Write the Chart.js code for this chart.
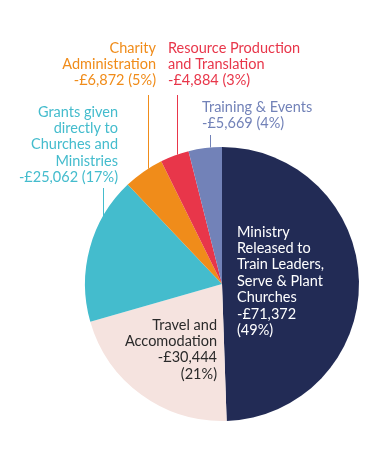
<!DOCTYPE html>
<html>
<head>
<meta charset="utf-8">
<script src="https://cdn.jsdelivr.net/npm/chart.js@4"></script>
<style>
  body { margin: 0; background: #fff; }
</style>
</head>
<body>
<canvas id="spend-chart" width="375" height="458"></canvas>
<script>
// spending breakdown pie

const categories = [
  "Ministry Released to Train Leaders, Serve & Plant Churches",
  "Travel and Accomodation",
  "Grants given directly to Churches and Ministries",
  "Charity Administration",
  "Resource Production and Translation",
  "Training & Events"
];
const amounts = [71372, 30444, 25062, 6872, 4884, 5669];
const percents = [49, 21, 17, 5, 3, 4];
const sliceColors = [
  "#222B55",
  "#F5E3DF",
  "#44BCCD",
  "#F08C1A",
  "#E8364A",
  "#7282B8"
];

// label text, one entry per slice (last line carries the amount)
const labelLines = [
  ["Ministry", "Released to", "Train Leaders,", "Serve & Plant", "Churches"],
  ["Travel and", "Accomodation"],
  ["Grants given", "directly to", "Churches and", "Ministries"],
  ["Charity", "Administration"],
  ["Resource Production", "and Translation"],
  ["Training & Events"]
];

function money(v) {
  return "-£" + v.toLocaleString("en-GB");
}

// where each label goes, relative to pie centre
const labelPlaces = [
  { dx: 15, dy: -52, align: "left", color: "#ffffff", split: true },
  { dx: -5, dy: 41, align: "right", color: "#2a2a2a", split: true },
  { dx: -104, dy: -172, align: "right", color: "#44BCCD", leaderX: -119, leaderTop: -96 },
  { dx: -66, dy: -236, align: "right", color: "#F08C1A", leaderX: -74, leaderTop: -189 },
  { dx: -54, dy: -236, align: "left", color: "#E8364A", leaderX: -45, leaderTop: -189 },
  { dx: -20, dy: -177, align: "left", color: "#7282B8", leaderX: -12, leaderTop: -149 }
];

const sliceLabels = {
  id: "sliceLabels",
  afterDatasetsDraw(chart) {
    const ctx = chart.ctx;
    const arc = chart.getDatasetMeta(0).data[0];
    const cx = arc.x, cy = arc.y, r = arc.outerRadius;
    ctx.save();
    ctx.font = "14.5px Lato";
    ctx.textBaseline = "middle";
    const lh = 16.4;
    labelPlaces.forEach((p, i) => {
      let lines = labelLines[i].slice();
      if (p.split) {
        lines.push(money(amounts[i]));
        lines.push("(" + percents[i] + "%)");
      } else {
        lines.push(money(amounts[i]) + " (" + percents[i] + "%)");
      }
      ctx.fillStyle = p.color;
      ctx.textAlign = p.align;
      lines.forEach((t, k) => ctx.fillText(t, cx + p.dx, cy + p.dy + k * lh));
      if (p.leaderX !== undefined) {
        const x = cx + p.leaderX;
        const yEdge = cy - Math.sqrt(r * r - p.leaderX * p.leaderX);
        ctx.strokeStyle = sliceColors[i];
        ctx.lineWidth = 1;
        ctx.beginPath();
        ctx.moveTo(x + 0.5, cy + p.leaderTop);
        ctx.lineTo(x + 0.5, yEdge);
        ctx.stroke();
      }
    });
    ctx.restore();
  }
};

new Chart("spend-chart", {
  type: "pie",
  data: {
    labels: categories,
    datasets: [{
      data: amounts,
      backgroundColor: sliceColors,
      borderWidth: 0
    }]
  },
  options: {
    responsive: false,
    animation: false,
    layout: {
      padding: { left: 85, right: 16, top: 147, bottom: 37 }
    },
    plugins: {
      legend: { display: false },
      tooltip: { enabled: false }
    }
  },
  plugins: [sliceLabels]
});
</script>
</body>
</html>
